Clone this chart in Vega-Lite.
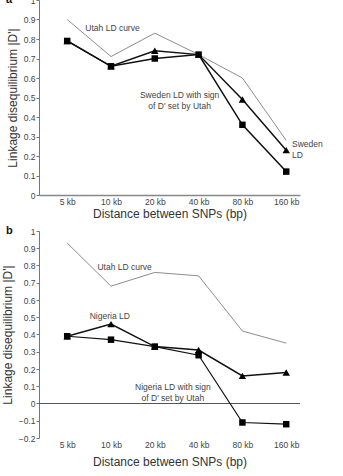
{
  "$schema": "https://vega.github.io/schema/vega-lite/v6.json",
  "autosize": "none",
  "padding": {"left": 39, "top": 0, "right": 304, "bottom": 476},
  "background": "white",
  "bounds": "flush",
  "spacing": 36,
  "config": {
    "view": {"stroke": null},
    "font": "Liberation Sans",
    "axis": {"grid": false, "labelFont": "Liberation Sans", "titleFont": "Liberation Sans", "labelFontSize": 8.5, "labelColor": "#444", "titleFontSize": 12, "titleFontWeight": "normal", "titleColor": "#333", "domainColor": "#777", "tickColor": "#777"}
  },
  "vconcat": [
    {
      "width": 261,
      "height": 195,
      "data": {"values": [
        {"kb": 5, "value": 0.90, "series": "Utah"},
        {"kb": 10, "value": 0.71, "series": "Utah"},
        {"kb": 20, "value": 0.83, "series": "Utah"},
        {"kb": 40, "value": 0.72, "series": "Utah"},
        {"kb": 80, "value": 0.60, "series": "Utah"},
        {"kb": 160, "value": 0.28, "series": "Utah"},
        {"kb": 5, "value": 0.79, "series": "LD"},
        {"kb": 10, "value": 0.66, "series": "LD"},
        {"kb": 20, "value": 0.74, "series": "LD"},
        {"kb": 40, "value": 0.72, "series": "LD"},
        {"kb": 80, "value": 0.49, "series": "LD"},
        {"kb": 160, "value": 0.23, "series": "LD"},
        {"kb": 5, "value": 0.79, "series": "Signed"},
        {"kb": 10, "value": 0.66, "series": "Signed"},
        {"kb": 20, "value": 0.70, "series": "Signed"},
        {"kb": 40, "value": 0.72, "series": "Signed"},
        {"kb": 80, "value": 0.36, "series": "Signed"},
        {"kb": 160, "value": 0.12, "series": "Signed"}
      ]},
      "encoding": {
        "x": {"field": "kb", "type": "quantitative", "scale": {"type": "log", "base": 2, "domain": [3.2, 199], "nice": false},
              "axis": {"values": [5, 10, 20, 40, 80, 160], "labelExpr": "datum.value + ' kb'", "ticks": false, "labelPadding": 2, "title": "Distance between SNPs (bp)", "titlePadding": 3, "domainWidth": 1.5, "domainColor": "#888", "labelFlush": false}},
        "y": {"field": "value", "type": "quantitative", "scale": {"domain": [0, 1], "nice": false},
              "axis": {"values": [0, 0.1, 0.2, 0.3, 0.4, 0.5, 0.6, 0.7, 0.8, 0.9, 1], "format": ".1~f", "tickSize": 3, "labelPadding": 1, "title": "Linkage disequilibrium |D'|", "titlePadding": 4, "labelFlush": false}}
      },
      "layer": [
        {"transform": [{"filter": "datum.series === 'Utah'"}], "mark": {"type": "line", "color": "#808080", "strokeWidth": 0.9}},
        {"transform": [{"filter": "datum.series === 'LD'"}], "mark": {"type": "line", "color": "#111", "strokeWidth": 1.5}},
        {"transform": [{"filter": "datum.series === 'Signed'"}], "mark": {"type": "line", "color": "#111", "strokeWidth": 1.5}},
        {"transform": [{"filter": "datum.series === 'LD'"}], "mark": {"type": "point", "shape": "triangle-up", "filled": true, "color": "#000", "size": 55, "opacity": 1}},
        {"transform": [{"filter": "datum.series === 'Signed'"}], "mark": {"type": "point", "shape": "square", "filled": true, "color": "#000", "size": 42, "opacity": 1}},
        {
          "data": {"values": [
            {"kb": 10.24, "value": 0.857, "label": "Utah LD curve"},
            {"kb": 29.6, "value": 0.513, "label": "Sweden LD with sign"},
            {"kb": 29.6, "value": 0.456, "label": "of D' set by Utah"}
          ]},
          "mark": {"type": "text", "fontSize": 8.5, "color": "#444", "baseline": "middle", "align": "center", "font": "Liberation Sans"},
          "encoding": {"text": {"field": "label"}}
        },
        {
          "data": {"values": [
            {"kb": 175.4, "value": 0.261, "label": "Sweden"},
            {"kb": 175.4, "value": 0.205, "label": "LD"}
          ]},
          "mark": {"type": "text", "fontSize": 8.5, "color": "#444", "baseline": "middle", "align": "left", "clip": false, "font": "Liberation Sans"},
          "encoding": {"text": {"field": "label"}}
        },
        {
          "data": {"values": [{"kb": 1.9, "value": 1.0, "label": "a"}]},
          "mark": {"type": "text", "fontSize": 11, "fontWeight": "bold", "color": "#111", "baseline": "middle", "align": "left", "clip": false, "font": "Liberation Sans"},
          "encoding": {"text": {"field": "label"}}
        }
      ]
    },
    {
      "width": 261,
      "height": 207,
      "data": {"values": [
        {"kb": 5, "value": 0.93, "series": "Utah"},
        {"kb": 10, "value": 0.68, "series": "Utah"},
        {"kb": 20, "value": 0.76, "series": "Utah"},
        {"kb": 40, "value": 0.74, "series": "Utah"},
        {"kb": 80, "value": 0.42, "series": "Utah"},
        {"kb": 160, "value": 0.35, "series": "Utah"},
        {"kb": 5, "value": 0.39, "series": "LD"},
        {"kb": 10, "value": 0.46, "series": "LD"},
        {"kb": 20, "value": 0.33, "series": "LD"},
        {"kb": 40, "value": 0.31, "series": "LD"},
        {"kb": 80, "value": 0.16, "series": "LD"},
        {"kb": 160, "value": 0.18, "series": "LD"},
        {"kb": 5, "value": 0.39, "series": "Signed"},
        {"kb": 10, "value": 0.37, "series": "Signed"},
        {"kb": 20, "value": 0.33, "series": "Signed"},
        {"kb": 40, "value": 0.28, "series": "Signed"},
        {"kb": 80, "value": -0.11, "series": "Signed"},
        {"kb": 160, "value": -0.12, "series": "Signed"}
      ]},
      "encoding": {
        "x": {"field": "kb", "type": "quantitative", "scale": {"type": "log", "base": 2, "domain": [3.2, 199], "nice": false},
              "axis": {"values": [5, 10, 20, 40, 80, 160], "labelExpr": "datum.value + ' kb'", "ticks": false, "domain": false, "labelPadding": 2, "title": "Distance between SNPs (bp)", "titlePadding": 8, "labelFlush": false}},
        "y": {"field": "value", "type": "quantitative", "scale": {"domain": [-0.2, 1], "nice": false},
              "axis": {"values": [-0.2, -0.1, 0, 0.1, 0.2, 0.3, 0.4, 0.5, 0.6, 0.7, 0.8, 0.9, 1], "format": ".1~f", "tickSize": 3, "labelPadding": 1, "title": "Linkage disequilibrium |D'|", "titlePadding": 4, "labelFlush": false}}
      },
      "layer": [
        {"data": {"values": [{"value": 0}]}, "mark": {"type": "rule", "color": "#555", "strokeWidth": 1}, "encoding": {"x": null, "y": {"field": "value", "type": "quantitative"}}},
        {"transform": [{"filter": "datum.series === 'Utah'"}], "mark": {"type": "line", "color": "#808080", "strokeWidth": 0.9}},
        {"transform": [{"filter": "datum.series === 'LD'"}], "mark": {"type": "line", "color": "#111", "strokeWidth": 1.5}},
        {"transform": [{"filter": "datum.series === 'Signed'"}], "mark": {"type": "line", "color": "#111", "strokeWidth": 1.2}},
        {"transform": [{"filter": "datum.series === 'LD'"}], "mark": {"type": "point", "shape": "triangle-up", "filled": true, "color": "#000", "size": 55, "opacity": 1}},
        {"transform": [{"filter": "datum.series === 'Signed'"}], "mark": {"type": "point", "shape": "square", "filled": true, "color": "#000", "size": 42, "opacity": 1}},
        {
          "data": {"values": [
            {"kb": 12.4, "value": 0.794, "label": "Utah LD curve"},
            {"kb": 9.81, "value": 0.509, "label": "Nigeria LD"},
            {"kb": 26.6, "value": 0.0965, "label": "Nigeria LD with sign"},
            {"kb": 26.6, "value": 0.033, "label": "of D' set by Utah"}
          ]},
          "mark": {"type": "text", "fontSize": 8.5, "color": "#444", "baseline": "middle", "align": "center", "font": "Liberation Sans"},
          "encoding": {"text": {"field": "label"}}
        },
        {
          "data": {"values": [{"kb": 1.9, "value": 1.0, "label": "b"}]},
          "mark": {"type": "text", "fontSize": 11, "fontWeight": "bold", "color": "#111", "baseline": "middle", "align": "left", "clip": false, "font": "Liberation Sans"},
          "encoding": {"text": {"field": "label"}}
        }
      ]
    }
  ]
}
